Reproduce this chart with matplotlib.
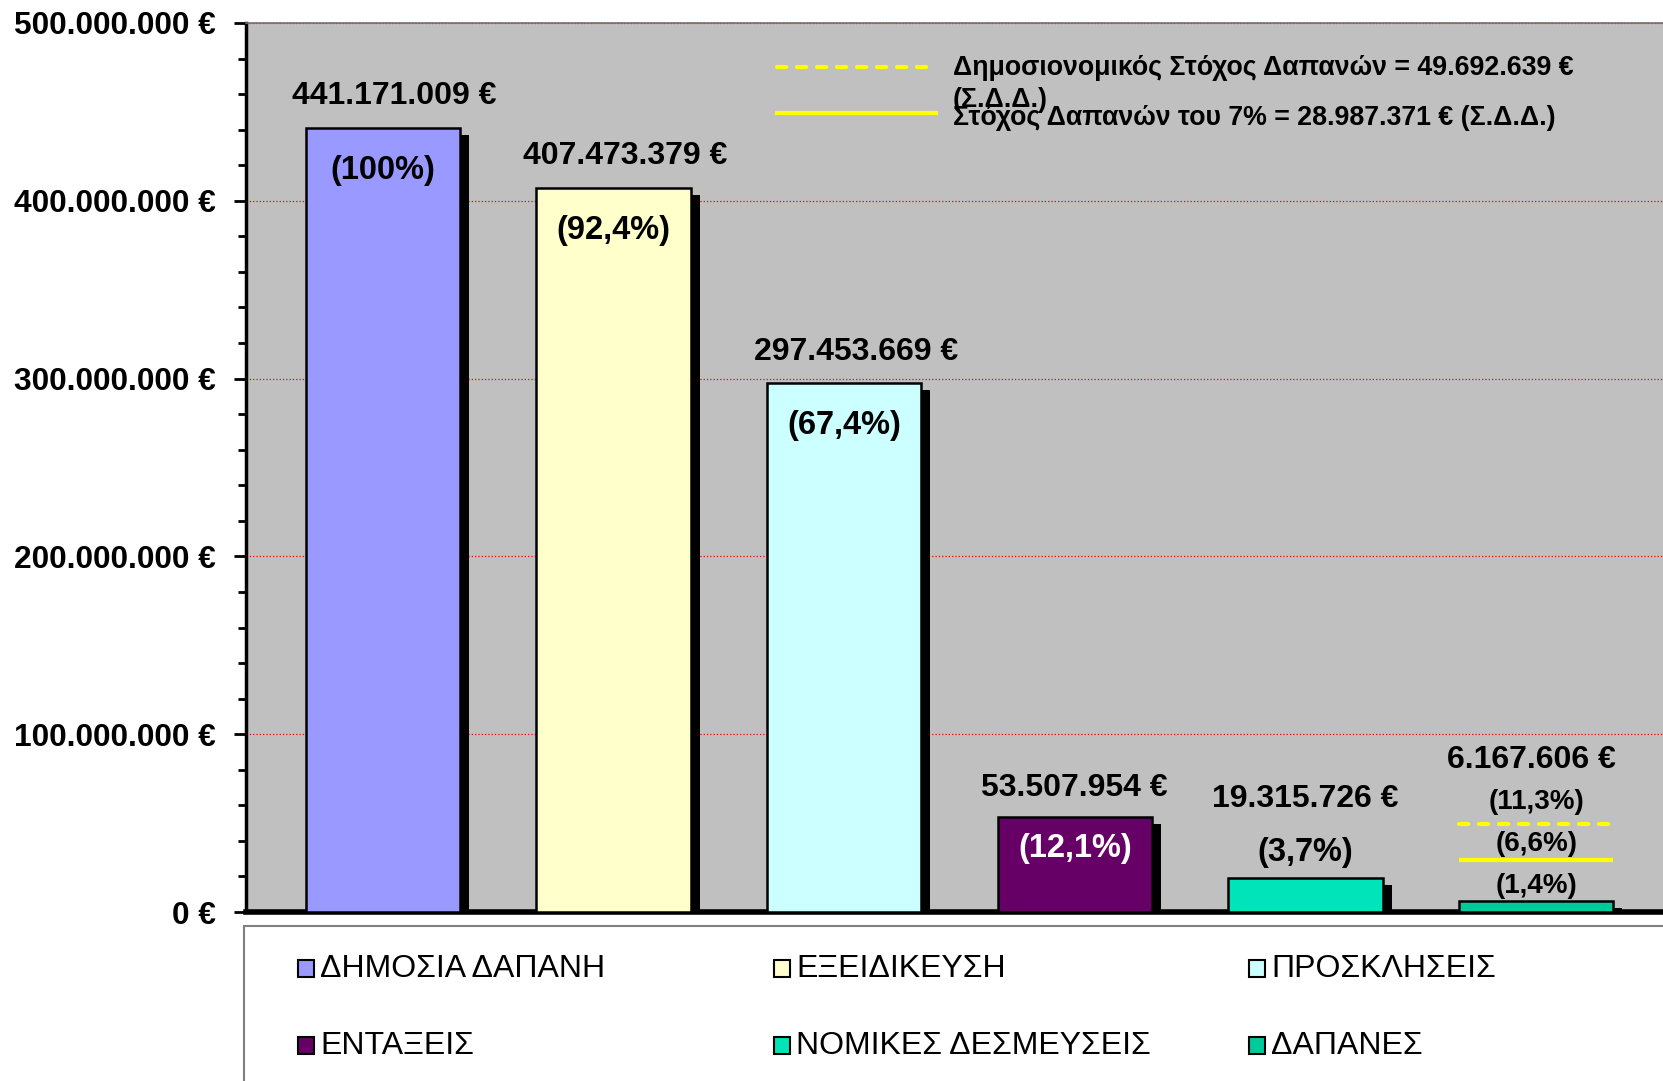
import matplotlib.pyplot as plt
import numpy as np
from matplotlib.patches import Rectangle
from matplotlib.lines import Line2D
from matplotlib.ticker import FuncFormatter, MultipleLocator

plt.rcParams['font.family'] = ['Liberation Sans', 'DejaVu Sans']

# data
categories = ['ΔΗΜΟΣΙΑ ΔΑΠΑΝΗ', 'ΕΞΕΙΔΙΚΕΥΣΗ', 'ΠΡΟΣΚΛΗΣΕΙΣ',
              'ΕΝΤΑΞΕΙΣ', 'ΝΟΜΙΚΕΣ ΔΕΣΜΕΥΣΕΙΣ', 'ΔΑΠΑΝΕΣ']
values = [441171009, 407473379, 297453669, 53507954, 19315726, 6167606]
percent_labels = ['(100%)', '(92,4%)', '(67,4%)', '(12,1%)', '(3,7%)', '(1,4%)']
bar_colors = ['#9999FF', '#FFFFCC', '#CCFFFF', '#660066', '#00E4BA', '#00C99B']

fiscal_target = 49692639
target_7pct = 28987371
target_percents = ['(11,3%)', '(6,6%)']
target_labels = ['Δημοσιονομικός Στόχος Δαπανών = 49.692.639 €',
                 '(Σ.Δ.Δ.)',
                 'Στόχος Δαπανών του 7% = 28.987.371 € (Σ.Δ.Δ.)']


def euro(v, pos=None):
    return f'{v:,.0f} €'.replace(',', '.')


W, H = 1663, 1081
fig = plt.figure(figsize=(W / 100, H / 100), dpi=100)
ax = fig.add_axes([246 / W, 169 / H, 1 - 246 / W, (912 - 23) / H])
ax.set_facecolor('#C0C0C0')

x = np.arange(len(values))
width = 0.67
vals = np.array(values, dtype=float)

# shadows then bars
px_x = 230.7   # pixels per category unit
px_y = 888.7 / 500e6
ax.bar(x + 9 / px_x, np.maximum(vals - 7 / px_y, 0), width, color='black', zorder=2)
ax.bar(x, vals, width, color=bar_colors, edgecolor='black', linewidth=1.8, zorder=3)

ax.set_xlim(-0.593, 5.55)
ax.set_ylim(0, 500e6)
ax.set_xticks([])
ax.yaxis.set_major_locator(MultipleLocator(100e6))
ax.yaxis.set_minor_locator(MultipleLocator(20e6))
ax.yaxis.set_major_formatter(FuncFormatter(euro))
ax.tick_params(axis='y', which='major', length=9, width=2, pad=13,
               labelsize=22.8)
ax.tick_params(axis='y', which='minor', length=6, width=2)
for t in ax.get_yticklabels():
    t.set_fontweight('bold')
ax.grid(axis='y', which='major', color='red', linestyle=':', linewidth=0.9, zorder=1)
ax.set_axisbelow(True)

ax.spines['left'].set_linewidth(2.5)
ax.spines['bottom'].set_linewidth(4)
ax.spines['top'].set_color('#707070')
ax.spines['top'].set_linewidth(1.2)
ax.spines['right'].set_visible(False)

# target lines over last bar
last = x[-1]
ax.hlines(fiscal_target, last - width / 2, last + width / 2, color='#FFFF00',
          linewidth=3, linestyle=(0, (2.2, 2.6)), capstyle='round', zorder=4)
ax.hlines(target_7pct, last - width / 2, last + width / 2, color='#FFFF00',
          linewidth=3, zorder=4)

# labels
big = 23
for i, v in enumerate(vals):
    if i == len(vals) - 1:
        ax.text(i - 0.02, fiscal_target + 36e6, euro(v), ha='center', va='center',
                fontsize=big, fontweight='bold', zorder=5)
        ax.text(i, fiscal_target + 12e6, target_percents[0], ha='center', va='center',
                fontsize=20, fontweight='bold', zorder=5)
        ax.text(i, target_7pct + 9e6, target_percents[1], ha='center', va='center',
                fontsize=20, fontweight='bold', zorder=5)
        ax.text(i, v + 8.3e6, percent_labels[i], ha='center', va='center',
                fontsize=20, fontweight='bold', zorder=5)
    elif v > 100e6:
        ax.text(i + 0.05, v + 17.5e6, euro(v), ha='center', va='center',
                fontsize=big, fontweight='bold', zorder=5)
        ax.text(i, v - 24e6, percent_labels[i], ha='center', va='center',
                fontsize=23.5, fontweight='bold', zorder=5)
    elif v > 40e6:
        ax.text(i, v + 16e6, euro(v), ha='center', va='center',
                fontsize=big, fontweight='bold', zorder=5)
        ax.text(i, v - 18e6, percent_labels[i], ha='center', va='center',
                fontsize=23.5, fontweight='bold', zorder=5, color='white')
    else:
        ax.text(i, v + 44.5e6, euro(v), ha='center', va='center',
                fontsize=big, fontweight='bold', zorder=5)
        ax.text(i, v + 14e6, percent_labels[i], ha='center', va='center',
                fontsize=23.5, fontweight='bold', zorder=5)

# target legend (top right)
fig.add_artist(Line2D([777 / W, 936 / W], [1 - 67 / H] * 2, color='#FFFF00', lw=3,
                      linestyle=(0, (2.2, 2.6)), dash_capstyle='round'))
fig.add_artist(Line2D([777 / W, 936 / W], [1 - 113 / H] * 2, color='#FFFF00', lw=3))
for lab, yy in zip(target_labels, [68, 100, 118]):
    fig.text(953 / W, 1 - yy / H, lab, ha='left', va='center', fontsize=19.3,
             fontweight='bold')

# category legend box
fig.add_artist(Rectangle((244 / W, -0.05), 1, (1081 - 926) / H + 0.05,
                         transform=fig.transFigure, facecolor='white',
                         edgecolor='#808080', linewidth=1.5))
col_x = [298, 774, 1249]
row_y = [969, 1046]
for i, (lab, col) in enumerate(zip(categories, bar_colors)):
    cx = col_x[i % 3]
    cy = row_y[i // 3]
    fig.add_artist(Rectangle((cx / W, 1 - (cy + 8) / H), 16 / W, 17 / H,
                             transform=fig.transFigure, facecolor=col,
                             edgecolor='black', linewidth=1.5))
    fig.text((cx + 22) / W, 1 - cy / H, lab, ha='left', va='center', fontsize=23)

fig.savefig('out.png', dpi=100)
